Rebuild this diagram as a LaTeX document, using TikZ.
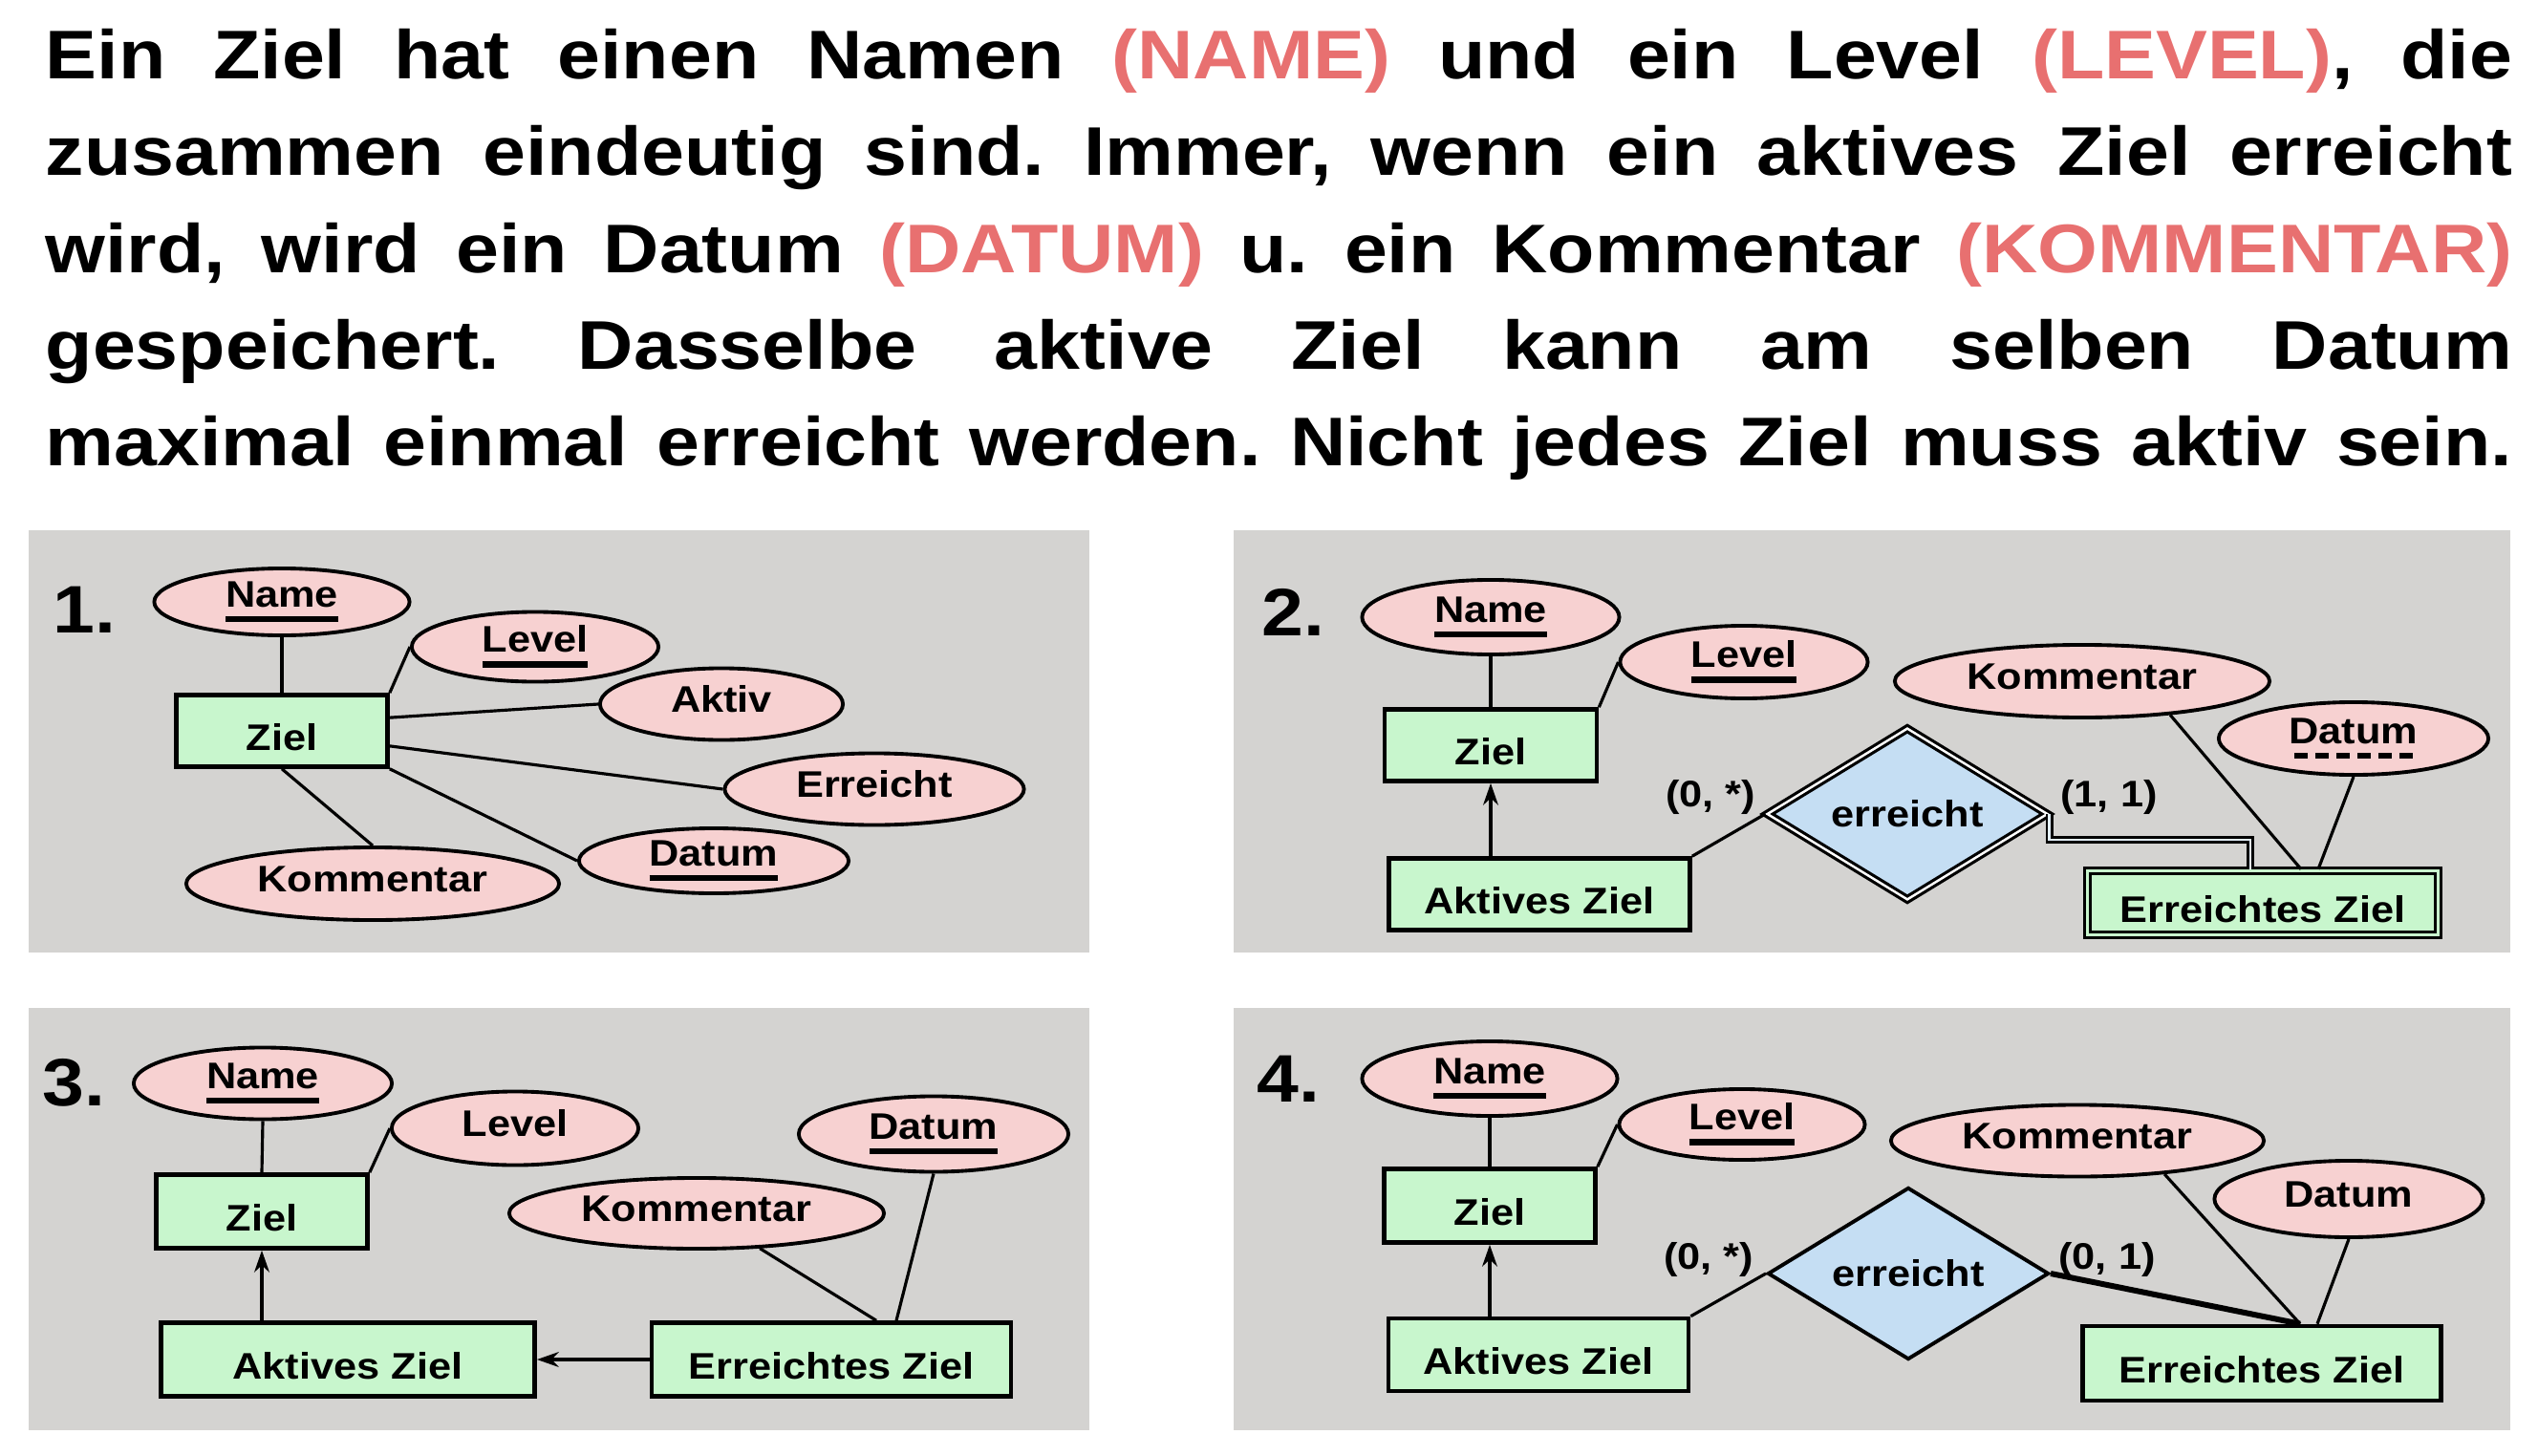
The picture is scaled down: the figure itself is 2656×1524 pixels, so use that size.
\documentclass[tikz,border=0pt]{standalone}
\usepackage{fontspec}
\setmainfont{Liberation Sans}[FakeStretch=1.12]
\usetikzlibrary{shapes.geometric,arrows.meta}
\definecolor{bggray}{HTML}{D4D3D1}
\definecolor{attrpink}{HTML}{F7D1D1}
\definecolor{entgreen}{HTML}{C8F6CD}
\definecolor{relblue}{HTML}{C5DEF3}
\definecolor{hired}{HTML}{E87070}
\frenchspacing
\newcommand{\redword}[1]{\textcolor{hired}{#1}}
\newcommand{\keyattr}[1]{\setbox0\hbox{#1}\vtop{\copy0\kern2.6pt\hrule height 1.9pt width\wd0}}
\newcommand{\partkey}[1]{\setbox0\hbox{#1}\vtop{\copy0\kern2.6pt\nointerlineskip\hbox to\wd0{\xleaders\hbox to 5.6pt{\hss\vrule width 4pt height 1.9pt depth 0pt\hss}\hfill}}}
\tikzset{
	attrbase/.style={ellipse, draw, fill=attrpink, line width=1.1pt, inner sep=0pt},
	attr/.style={attrbase, text height=0.28cm, text depth=0.12cm},
	entity/.style={rectangle, draw, fill=entgreen, line width=1.3pt, inner sep=0pt, minimum height=0.75cm, text height=0.4cm, text depth=0pt},
	weakentity/.style={entity, double=entgreen, double distance=0.7pt, line width=1pt},
	rel/.style={diamond, aspect=1.6, draw, fill=relblue, line width=1.1pt, inner sep=0pt, minimum width=2.94cm, minimum height=1.8cm},
	weakrel/.style={rel, double=white, double distance=0.7pt, line width=0.9pt},
	card/.style={inner sep=0pt},
	panelno/.style={anchor=base west, inner sep=0pt, font=\bfseries\fontsize{20}{24}\selectfont},
	toptext/.style={anchor=base west, inner sep=0pt, font=\bfseries\fontsize{20.5}{24}\selectfont},
	conn/.style={line width=0.9pt},
	isa/.style={line width=0.9pt, -{Stealth[length=6.5pt,width=4.5pt]}}
}
\begin{document}
\begin{tikzpicture}[x=0.01cm, y=-0.01cm, font=\bfseries\fontsize{11}{13}\selectfont]
	\fill[white] (0,0) rectangle (2656,1524);
	\useasboundingbox (0,0) rectangle (2656,1524);
	\node[toptext] (line1) at (47,83) {\makebox[25.8cm][s]{Ein Ziel hat einen Namen \redword{(NAME)} und ein Level \redword{(LEVEL)}, die}};
	\node[toptext] (line2) at (47,183) {\makebox[25.8cm][s]{zusammen eindeutig sind. Immer, wenn ein aktives Ziel erreicht}};
	\node[toptext] (line3) at (47,285) {\makebox[25.8cm][s]{wird, wird ein Datum \redword{(DATUM)} u. ein Kommentar \redword{(KOMMENTAR)}}};
	\node[toptext] (line4) at (47,386) {\makebox[25.8cm][s]{gespeichert. Dasselbe aktive Ziel kann am selben Datum}};
	\node[toptext] (line5) at (47,487) {\makebox[25.8cm][s]{maximal einmal erreicht werden. Nicht jedes Ziel muss aktiv sein.}};

	\fill[bggray] (30,555) rectangle (1140,997);
	\fill[bggray] (1291,555) rectangle (2627,997);
	\fill[bggray] (30,1055) rectangle (1140,1497);
	\fill[bggray] (1291,1055) rectangle (2627,1497);

	\node[panelno] (no1) at (55,662) {1.};
	\node[attrbase, minimum width=2.67cm, minimum height=0.70cm] (name1) at (295,630) {\keyattr{Name}};
	\node[attrbase, minimum width=2.58cm, minimum height=0.73cm] (level1) at (560,677) {\keyattr{Level}};
	\node[attr, minimum width=2.54cm, minimum height=0.75cm] (aktiv1) at (755,737) {Aktiv};
	\node[attr, minimum width=3.13cm, minimum height=0.75cm] (erreicht1) at (915,826) {Erreicht};
	\node[attrbase, minimum width=2.82cm, minimum height=0.68cm] (datum1) at (747,901) {\keyattr{Datum}};
	\node[attr, minimum width=3.90cm, minimum height=0.76cm] (komm1) at (390,925) {Kommentar};
	\node[entity, minimum width=2.21cm] (ziel1) at (295,765) {Ziel};
	\draw[conn] (name1) -- (ziel1);
	\draw[conn] (level1.west) -- (ziel1.north east);
	\draw[conn] (aktiv1.west) -- (ziel1.7);
	\draw[conn] (erreicht1.west) -- (ziel1.-8);
	\draw[conn] (datum1.west) -- (ziel1.south east);
	\draw[conn] (komm1.north) -- (ziel1.south);

	\node[panelno] (no2) at (1320,665) {2.};
	\node[attrbase, minimum width=2.69cm, minimum height=0.78cm] (name2) at (1560,646) {\keyattr{Name}};
	\node[attrbase, minimum width=2.59cm, minimum height=0.76cm] (level2) at (1825,693) {\keyattr{Level}};
	\node[attr, minimum width=3.92cm, minimum height=0.76cm] (komm2) at (2179,713) {Kommentar};
	\node[attrbase, minimum width=2.82cm, minimum height=0.76cm] (datum2) at (2463,773) {\partkey{Datum}};
	\node[entity, minimum width=2.22cm] (ziel2) at (1560,780) {Ziel};
	\node[entity, minimum width=3.15cm] (aktiv2) at (1611,936) {Aktives Ziel};
	\node[weakrel] (rel2) at (1996,852) {erreicht};
	\node[weakentity, minimum width=3.67cm, minimum height=0.67cm] (erz2) at (2368,945) {Erreichtes Ziel};
	\node[card] (card2a) at (1790,834) {(0, *)};
	\node[card] (card2b) at (2207,834) {(1, 1)};
	\draw[conn] (name2) -- (ziel2);
	\draw[conn] (level2.west) -- (ziel2.north east);
	\draw[isa] (ziel2.south |- aktiv2.north) -- (ziel2.south);
	\draw[conn] (aktiv2.north east) -- (rel2.west);
	\draw[conn, double=relblue!50!white, double distance=0.8pt, line width=0.7pt] (rel2.east) -- ++(0,27) -| ([xshift=-0.13cm]erz2.north);
	\draw[conn] (komm2.-21) -- ([xshift=0.4cm]erz2.north);
	\draw[conn] (datum2.south) -- ([xshift=0.58cm]erz2.north);

	\node[panelno] (no3) at (44,1157) {3.};
	\node[attrbase, minimum width=2.70cm, minimum height=0.75cm] (name3) at (275,1134) {\keyattr{Name}};
	\node[attr, minimum width=2.58cm, minimum height=0.77cm] (level3) at (539,1181) {Level};
	\node[attrbase, minimum width=2.82cm, minimum height=0.79cm] (datum3) at (977,1187) {\keyattr{Datum}};
	\node[attr, minimum width=3.92cm, minimum height=0.74cm] (komm3) at (729,1270) {Kommentar};
	\node[entity, minimum width=2.21cm, minimum height=0.77cm] (ziel3) at (274,1268) {Ziel};
	\node[entity, minimum width=3.91cm, minimum height=0.77cm] (aktiv3) at (364,1423) {Aktives Ziel};
	\node[entity, minimum width=3.76cm, minimum height=0.77cm] (erz3) at (870,1423) {Erreichtes Ziel};
	\draw[conn] (name3.south) -- (ziel3.north);
	\draw[conn] (level3.west) -- (ziel3.north east);
	\draw[isa] (ziel3.south |- aktiv3.north) -- (ziel3.south);
	\draw[isa] (erz3) -- (aktiv3);
	\draw[conn] (komm3.-29) -- ([xshift=0.47cm]erz3.north);
	\draw[conn] (datum3.south) -- ([xshift=0.68cm]erz3.north);

	\node[panelno] (no4) at (1315,1153) {4.};
	\node[attrbase, minimum width=2.67cm, minimum height=0.78cm] (name4) at (1559,1129) {\keyattr{Name}};
	\node[attrbase, minimum width=2.57cm, minimum height=0.74cm] (level4) at (1823,1177) {\keyattr{Level}};
	\node[attr, minimum width=3.90cm, minimum height=0.75cm] (komm4) at (2174,1194) {Kommentar};
	\node[attr, minimum width=2.81cm, minimum height=0.80cm] (datum4) at (2458,1255) {Datum};
	\node[entity, minimum width=2.21cm, minimum height=0.77cm] (ziel4) at (1559,1262) {Ziel};
	\node[entity, minimum width=3.14cm, minimum height=0.76cm] (aktiv4) at (1610,1418) {Aktives Ziel};
	\node[rel] (rel4) at (1997,1333) {erreicht};
	\node[entity, minimum width=3.75cm, minimum height=0.78cm] (erz4) at (2367,1427) {Erreichtes Ziel};
	\node[card] (card4a) at (1788,1318) {(0, *)};
	\node[card] (card4b) at (2205,1318) {(0, 1)};
	\draw[conn] (name4) -- (ziel4);
	\draw[conn] (level4.west) -- (ziel4.north east);
	\draw[isa] (ziel4.south |- aktiv4.north) -- (ziel4.south);
	\draw[conn] (aktiv4.north east) -- (rel4.west);
	\draw[conn, line width=1.7pt] (rel4.east) -- ([xshift=0.4cm]erz4.north);
	\draw[conn] (komm4.-21) -- ([xshift=0.4cm]erz4.north);
	\draw[conn] (datum4.south) -- ([xshift=0.58cm]erz4.north);
\end{tikzpicture}
\end{document}
